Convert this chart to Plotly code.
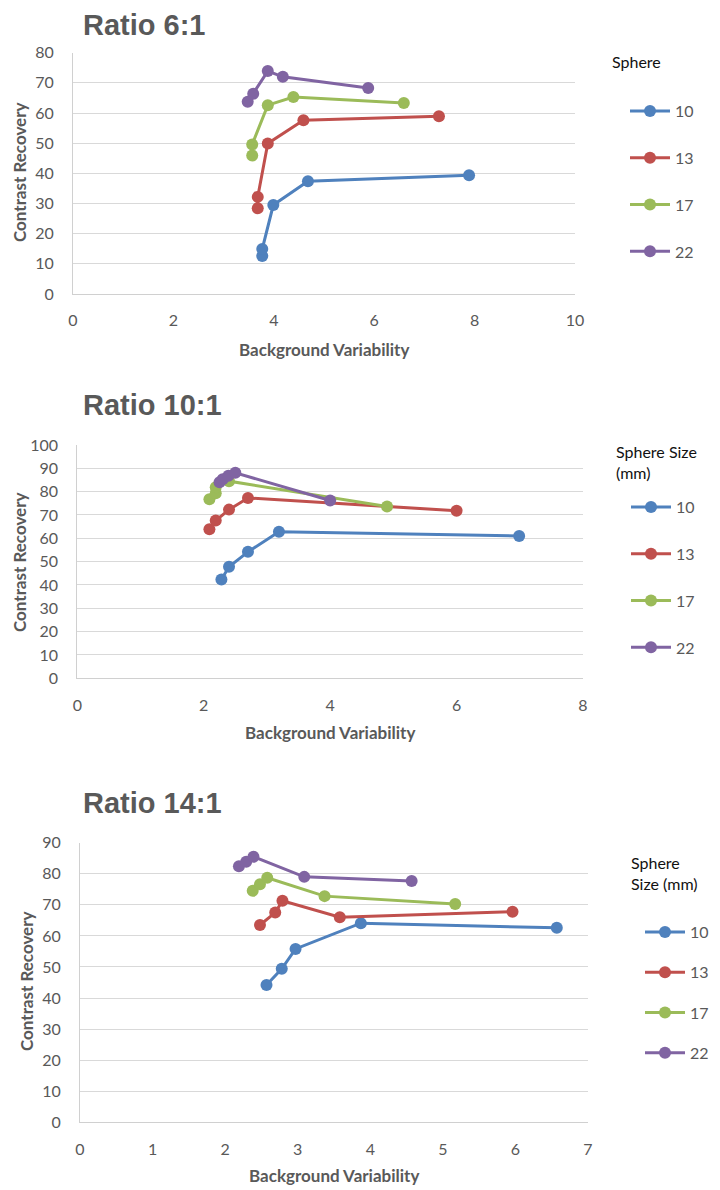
import plotly.graph_objects as go

W, H = 720, 1190
OFF = 8  # page body margin

sphere_sizes = ["10", "13", "17", "22"]
series_colors = ["#4F81BD", "#C0504D", "#9BBB59", "#8064A2"]

# ---- Ratio 6:1 ----
r6_s10_bv = [3.77, 3.77, 3.99, 4.68, 7.89]
r6_s10_cr = [12.6, 14.9, 29.5, 37.4, 39.4]
r6_s13_bv = [3.68, 3.68, 3.88, 4.59, 7.29]
r6_s13_cr = [28.4, 32.2, 49.9, 57.6, 58.9]
r6_s17_bv = [3.57, 3.57, 3.88, 4.39, 6.59]
r6_s17_cr = [45.9, 49.6, 62.6, 65.3, 63.3]
r6_s22_bv = [3.48, 3.59, 3.88, 4.18, 5.88]
r6_s22_cr = [63.7, 66.4, 73.9, 72.0, 68.3]

# ---- Ratio 10:1 ----
r10_s10_bv = [2.28, 2.40, 2.70, 3.19, 6.99]
r10_s10_cr = [42.3, 47.8, 54.2, 62.8, 61.0]
r10_s13_bv = [2.09, 2.19, 2.40, 2.70, 6.00]
r10_s13_cr = [63.9, 67.6, 72.3, 77.3, 71.8]
r10_s17_bv = [2.09, 2.19, 2.19, 2.40, 4.90]
r10_s17_cr = [76.7, 79.3, 81.9, 84.5, 73.6]
r10_s22_bv = [2.25, 2.30, 2.39, 2.50, 4.00]
r10_s22_cr = [84.0, 85.3, 86.8, 88.1, 76.2]

# ---- Ratio 14:1 ----
r14_s10_bv = [2.57, 2.78, 2.97, 3.87, 6.57]
r14_s10_cr = [44.2, 49.4, 55.8, 64.1, 62.6]
r14_s13_bv = [2.48, 2.69, 2.79, 3.58, 5.96]
r14_s13_cr = [63.5, 67.5, 71.3, 66.0, 67.8]
r14_s17_bv = [2.38, 2.48, 2.58, 3.37, 5.17]
r14_s17_cr = [74.5, 76.6, 78.7, 72.8, 70.3]
r14_s22_bv = [2.19, 2.29, 2.39, 3.09, 4.57]
r14_s22_cr = [82.4, 83.9, 85.5, 79.0, 77.7]

chart_titles = ["Ratio 6:1", "Ratio 10:1", "Ratio 14:1"]
legend_titles = ["Sphere", "Sphere Size<br>(mm)", "Sphere<br>Size (mm)"]
x_ranges = [[0, 10], [0, 8], [0, 7]]
x_dticks = [2, 2, 1]
y_ranges = [[0, 80], [0, 100], [0, 90]]

charts = [
    [(r6_s10_bv, r6_s10_cr), (r6_s13_bv, r6_s13_cr), (r6_s17_bv, r6_s17_cr), (r6_s22_bv, r6_s22_cr)],
    [(r10_s10_bv, r10_s10_cr), (r10_s13_bv, r10_s13_cr), (r10_s17_bv, r10_s17_cr), (r10_s22_bv, r10_s22_cr)],
    [(r14_s10_bv, r14_s10_cr), (r14_s13_bv, r14_s13_cr), (r14_s17_bv, r14_s17_cr), (r14_s22_bv, r14_s22_cr)],
]

# plot-area pixel boxes in page coordinates: (left, right, top, bottom)
boxes = [(73, 575, 52.7, 294), (77.3, 583, 445, 678.3), (80, 588, 842.7, 1122.3)]
# chart titles: (left x, top y of text box, anchor)
title_pos = [(82, 8, "top"), (82, 405, "middle"), (82, 803, "middle")]
ytitle_pos = [(20, 172), (19, 562), (26, 981)]
xtitle_y = [349, 733, 1175]
legend_pos = [(625, 94), (626, 490), (640, 915)]
legend_gap = [23, 23, 16.5]
legtitle_pos = [(610, 61.7), (614, 440), (629, 851)]
legtitle_anchor = ["middle", "top", "top"]

GRAY = "#595959"
FONT = "Lato, 'Open Sans', sans-serif"

def px(x):
    return (x - OFF) / W

def py(y):
    return 1 - (y - OFF) / H

fig = go.Figure()
layout = dict(
    width=W, height=H,
    margin=dict(l=0, r=0, t=0, b=0, autoexpand=False),
    plot_bgcolor="white", paper_bgcolor="white",
    font=dict(family=FONT, size=16, color=GRAY),
    annotations=[],
)

for ci in range(3):
    ax = "" if ci == 0 else str(ci + 1)
    leg = "legend" if ci == 0 else "legend" + str(ci + 1)
    for si, (bv, cr) in enumerate(charts[ci]):
        fig.add_trace(go.Scatter(
            x=bv, y=cr, mode="lines+markers", name=sphere_sizes[si],
            line=dict(color=series_colors[si], width=3),
            marker=dict(color=series_colors[si], size=12),
            xaxis="x" + ax, yaxis="y" + ax, legend=leg,
            legendgroup="c%d_s%d" % (ci, si), cliponaxis=False,
        ))
    l, r, t, b = boxes[ci]
    layout["xaxis" + ax] = dict(
        domain=[px(l), px(r)], range=x_ranges[ci], dtick=x_dticks[ci],
        anchor="y" + ax, showgrid=False, zeroline=False,
        showline=True, linecolor="#D0D0D0", linewidth=1,
        ticks="", ticklabelstandoff=12, tickfont=dict(size=16, color=GRAY),
    )
    layout["yaxis" + ax] = dict(
        domain=[py(b), py(t)], range=y_ranges[ci], dtick=10,
        anchor="x" + ax, showgrid=True, gridcolor="#D9D9D9", gridwidth=1,
        zeroline=False, showline=True, linecolor="#D0D0D0", linewidth=1,
        ticks="", ticklabelstandoff=15, tickfont=dict(size=16, color=GRAY),
    )
    lx, ly = legend_pos[ci]
    layout[leg] = dict(
        x=px(lx), y=py(ly), xref="paper", yref="paper",
        xanchor="left", yanchor="top",
        font=dict(family=FONT, size=16, color=GRAY),
        tracegroupgap=legend_gap[ci], bgcolor="rgba(0,0,0,0)",
        itemwidth=40,
    )
    tx, ty, tanchor = title_pos[ci]
    layout["annotations"].append(dict(
        text="<b>" + chart_titles[ci] + "</b>", x=px(tx), y=py(ty),
        xref="paper", yref="paper", xanchor="left", yanchor=tanchor,
        showarrow=False, borderpad=0,
        font=dict(family="'Liberation Sans Narrow', 'Arial Narrow', 'Liberation Sans', sans-serif", size=29, color=GRAY),
    ))
    yx, yy = ytitle_pos[ci]
    layout["annotations"].append(dict(
        text="<b>Contrast Recovery</b>", x=px(yx), y=py(yy), textangle=-90,
        xref="paper", yref="paper", xanchor="center", yanchor="middle",
        showarrow=False, font=dict(family=FONT, size=17, color=GRAY),
    ))
    layout["annotations"].append(dict(
        text="<b>Background Variability</b>", x=px((l + r) / 2), y=py(xtitle_y[ci]),
        xref="paper", yref="paper", xanchor="center", yanchor="middle",
        showarrow=False, font=dict(family=FONT, size=17, color=GRAY),
    ))
    gx, gy = legtitle_pos[ci]
    layout["annotations"].append(dict(
        text=legend_titles[ci], x=px(gx), y=py(gy), align="left",
        xref="paper", yref="paper", xanchor="left", yanchor=legtitle_anchor[ci],
        showarrow=False, font=dict(family=FONT, size=16, color="#111111"),
    ))

fig.update_layout(**layout)
fig.write_html("out.html")
